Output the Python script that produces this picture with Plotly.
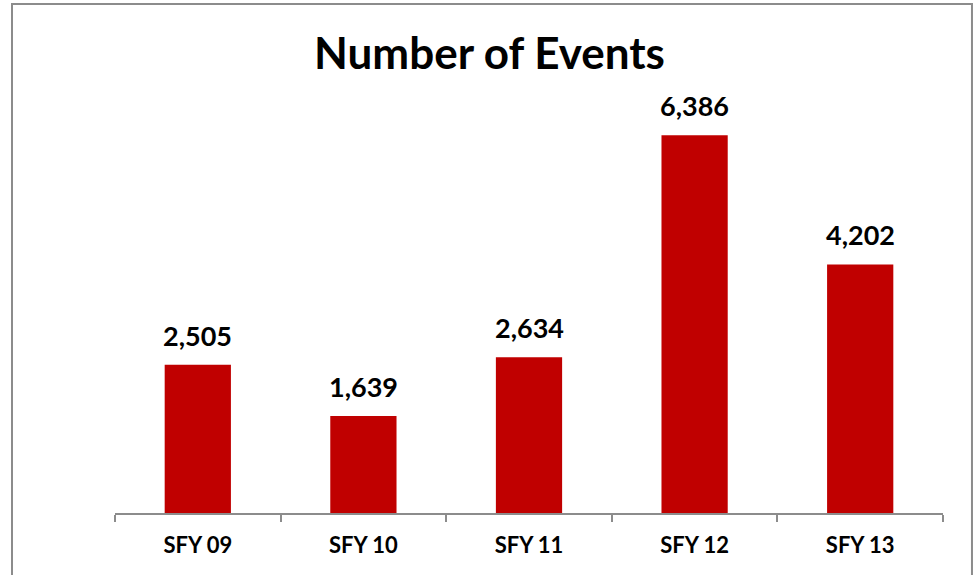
import plotly.graph_objects as go

categories = ["SFY 09", "SFY 10", "SFY 11", "SFY 12", "SFY 13"]
events = [2505, 1639, 2634, 6386, 4202]
labels = ["2,505", "1,639", "2,634", "6,386", "4,202"]

BAR_COLOR = "#C00000"
FONT = "Lato"

fig = go.Figure()
fig.add_trace(go.Bar(
    x=categories, y=events, marker=dict(color=BAR_COLOR, line=dict(width=0)),
    width=0.4, hoverinfo="x+y",
))

for c, v, t in zip(categories, events, labels):
    fig.add_annotation(x=c, y=v, text=f"<b>{t}</b>", showarrow=False,
                       yanchor="bottom", yshift=11,
                       font=dict(family=FONT, size=27, color="black"))

fig.add_shape(type="rect", xref="paper", yref="paper",
              x0=-0.1244, x1=1.035, y0=-0.3, y1=1.2295,
              line=dict(color="#8c8c8c", width=2), layer="below")

fig.update_layout(
    width=979, height=575,
    margin=dict(l=115, r=36, t=99, b=62),
    paper_bgcolor="white", plot_bgcolor="white",
    showlegend=False,
    title=dict(text="<b>Number of Events</b>", x=0.5, xanchor="center",
               y=0.906, yanchor="middle",
               font=dict(family=FONT, size=44, color="black")),
    bargap=0.6,
    xaxis=dict(showline=True, linecolor="#8c8c8c", linewidth=2,
               ticks="outside", tickson="boundaries", ticklen=7,
               tickcolor="#8c8c8c", tickwidth=2,
               tickfont=dict(family=FONT, size=22, color="black"),
               ticklabelstandoff=12, showgrid=False),
    yaxis=dict(range=[0, 7000], visible=False, showgrid=False, zeroline=False),
)
fig.update_xaxes(ticktext=[f"<b>{c}</b>" for c in categories], tickvals=categories)

fig.write_html("out.html", config={"displayModeBar": False},
               post_script="document.body.style.margin='0';document.body.style.overflow='hidden';")
